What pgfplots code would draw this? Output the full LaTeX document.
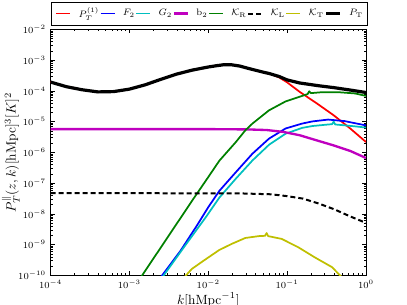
\documentclass[border=0pt]{standalone}
\usepackage{pgfplots}
\pgfplotsset{compat=1.18}
\definecolor{mred}{rgb}{1,0,0}
\definecolor{mblue}{rgb}{0,0,1}
\definecolor{mcyan}{rgb}{0,0.75,0.75}
\definecolor{mmag}{rgb}{0.75,0,0.75}
\definecolor{mgreen}{rgb}{0,0.5,0}
\definecolor{myel}{rgb}{0.75,0.75,0}
\begin{document}
\begin{tikzpicture}
\begin{axis}[
 scale only axis, width=236.6pt, height=184.5pt,
 xmode=log, ymode=log,
 xmin=1e-4, xmax=1, ymin=1e-10, ymax=1e-2,
 xtick={1e-4,1e-3,1e-2,1e-1,1},
 ytick={1e-10,1e-9,1e-8,1e-7,1e-6,1e-5,1e-4,1e-3,1e-2},
 tick label style={font=\fontsize{7.5}{9}\selectfont},
 label style={font=\fontsize{7.8}{9.5}\selectfont},
 xlabel={$k[\mathrm{hMpc}^{-1}]$},
 ylabel={$P_T^{\|}(z,k)[\mathrm{hMpc}]^3[K]^2$},
 every axis x label/.style={at={(axis description cs:0.5,0)}, anchor=north, yshift=-9pt},
 every axis y label/.style={at={(axis description cs:-0.083,0.5)}, rotate=90, anchor=south},
 major tick length=3pt, minor tick length=1.5pt,
 axis line style={line width=0.6pt},
 every tick/.style={black, line width=0.5pt},
 legend columns=8,
 legend style={at={(0,1.018)}, anchor=south west, font=\fontsize{7}{8.5}\selectfont,
   inner xsep=3.5pt, inner ysep=2pt, nodes={inner xsep=0pt},
   /tikz/every odd column/.append style={column sep=5.5pt},
   /tikz/every even column/.append style={column sep=0.5pt}},
 every axis plot/.append style={line join=round},
]
% P_T^(1) red
\addplot[draw=mred, line width=1.3pt,
  legend image code/.code={\draw[mred, line width=1.3pt] (0pt,0pt) -- (10.5pt,0pt);}] coordinates {
(1e-4,1.95e-4) (1.585e-4,1.380e-4) (2.512e-4,1.096e-4) (3.981e-4,9.33e-5) (6.310e-4,9.55e-5)
(1e-3,1.148e-4) (1.585e-3,1.585e-4) (2.512e-3,2.399e-4) (3.981e-3,3.548e-4) (6.310e-3,4.786e-4)
(1e-2,6.026e-4) (1.259e-2,6.607e-4) (1.585e-2,7.161e-4) (1.995e-2,7.079e-4) (2.512e-2,6.457e-4)
(3.162e-2,5.495e-4) (3.631e-2,5.012e-4) (5.012e-2,4.074e-4)
(5.888e-2,3.715e-4) (7.943e-2,2.754e-4) (0.1,1.905e-4) (0.1445,9.33e-5) (0.2399,3.890e-5)
(0.3890,1.622e-5) (0.6310,6.026e-6) (1,2.188e-6)};
\addlegendentry{$P_T^{(1)}$}
% F_2 blue
\addplot[draw=mblue, line width=1.3pt,
  legend image code/.code={\draw[mblue, line width=1.3pt] (0pt,0pt) -- (10.5pt,0pt);}] coordinates {
(2.512e-3,8.913e-11) (4.467e-3,6.457e-10) (7.244e-3,4.365e-9) (1e-2,1.660e-8) (1.380e-2,5.623e-8)
(2.239e-2,2.291e-7) (3.631e-2,9.120e-7) (5.888e-2,2.818e-6) (9.550e-2,6.026e-6) (0.1549,8.710e-6)
(0.2089,1.023e-5) (0.3311,1.175e-5) (0.5370,1.047e-5) (1,7.586e-6)};
\addlegendentry{$F_2$}
% G_2 cyan
\addplot[draw=mcyan, line width=1.3pt,
  legend image code/.code={\draw[mcyan, line width=1.3pt] (0pt,0pt) -- (10.5pt,0pt);}] coordinates {
(2.630e-3,8.913e-11) (5.012e-3,8.913e-10) (9.333e-3,7.943e-9) (1.380e-2,3.388e-8) (2.239e-2,1.413e-7)
(3.631e-2,5.495e-7) (5.888e-2,1.778e-6) (9.550e-2,4.074e-6) (0.1549,6.310e-6) (0.2089,7.244e-6)
(0.3311,8.128e-6) (0.3715,8.318e-6) (0.3890,1.0e-5) (0.4074,8.128e-6) (0.5012,7.762e-6)
(0.7244,7.079e-6) (1,6.457e-6)};
\addlegendentry{$G_2$}
% b_2 magenta
\addplot[draw=mmag, line width=1.75pt,
  legend image code/.code={\draw[mmag, line width=1.75pt] (0pt,0pt) -- (10.5pt,0pt);}] coordinates {
(1e-4,5.754e-6) (1e-2,5.754e-6) (3.162e-2,5.623e-6) (5.495e-2,5.370e-6) (8.913e-2,4.677e-6)
(0.1445,3.631e-6) (0.2399,2.455e-6) (0.3890,1.698e-6) (0.6310,1.122e-6) (1,6.607e-7)};
\addlegendentry{$\mathrm{b}_2$}
% K_R green
\addplot[draw=mgreen, line width=1.3pt,
  legend image code/.code={\draw[mgreen, line width=1.3pt] (0pt,0pt) -- (10.5pt,0pt);}] coordinates {
(1.380e-3,8.318e-11) (3.162e-3,1.995e-9) (6.310e-3,2.818e-8) (1e-2,1.585e-7) (1.380e-2,5.370e-7)
(2.239e-2,2.188e-6) (2.951e-2,5.248e-6) (3.631e-2,8.710e-6) (5.888e-2,2.344e-5) (9.550e-2,4.571e-5)
(0.1549,6.918e-5) (0.1820,7.943e-5) (0.1905,9.772e-5) (0.1995,8.511e-5) (0.2754,9.120e-5)
(0.4467,9.120e-5) (0.7244,8.318e-5) (1,6.918e-5)};
\addlegendentry{$\mathcal{K}_\mathrm{R}$}
% K_L dashed
\addplot[draw=black, line width=1.5pt, dash pattern=on 3.75pt off 2.25pt,
  legend image code/.code={\draw[black, line width=1.5pt, dash pattern=on 3.75pt off 2.25pt] (0pt,0pt) -- (10.5pt,0pt);}] coordinates {
(1e-4,4.786e-8) (2.512e-2,4.677e-8) (6.310e-2,4.365e-8) (0.1,3.802e-8) (0.1585,3.162e-8)
(0.2512,2.188e-8) (0.3981,1.413e-8) (0.6310,8.318e-9) (1,5.129e-9)};
\addlegendentry{$\mathcal{K}_\mathrm{L}$}
% K_T yellow
\addplot[draw=myel, line width=1.3pt,
  legend image code/.code={\draw[myel, line width=1.3pt] (0pt,0pt) -- (10.5pt,0pt);}] coordinates {
(5.012e-3,8.913e-11) (6.166e-3,1.622e-10) (8.710e-3,3.020e-10) (1.380e-2,6.761e-10) (1.995e-2,1.072e-9)
(2.951e-2,1.660e-9) (4.365e-2,1.905e-9) (5.248e-2,1.950e-9) (5.495e-2,2.399e-9) (5.754e-2,1.905e-9)
(8.511e-2,1.549e-9) (0.1380,8.318e-10) (0.2239,3.890e-10) (0.3715,1.862e-10) (0.4898,8.913e-11)};
\addlegendentry{$\mathcal{K}_\mathrm{T}$}
% P_T black
\addplot[draw=black, line width=2.4pt,
  legend image code/.code={\draw[black, line width=2.4pt] (0pt,0pt) -- (10.5pt,0pt);}] coordinates {
(1e-4,1.95e-4) (1.585e-4,1.380e-4) (2.512e-4,1.096e-4) (3.981e-4,9.33e-5) (6.310e-4,9.55e-5)
(1e-3,1.148e-4) (1.585e-3,1.585e-4) (2.512e-3,2.399e-4) (3.981e-3,3.548e-4) (6.310e-3,4.786e-4)
(1e-2,6.026e-4) (1.259e-2,6.607e-4) (1.585e-2,7.161e-4) (1.995e-2,7.079e-4) (2.512e-2,6.457e-4)
(3.162e-2,5.495e-4) (3.631e-2,5.012e-4) (5.012e-2,4.074e-4)
(5.888e-2,3.715e-4) (7.943e-2,2.951e-4) (0.1,2.291e-4) (0.1445,1.820e-4) (0.2512,1.479e-4)
(0.3890,1.288e-4) (0.6310,1.072e-4) (1,8.913e-5)};
\addlegendentry{$P_\mathrm{T}$}
\end{axis}
\pgfresetboundingbox
\path ([shift={(-37.9pt,-22.1pt)}]current axis.south west) rectangle ([shift={(30.75pt,22.1pt)}]current axis.north east);
\end{tikzpicture}
\end{document}
